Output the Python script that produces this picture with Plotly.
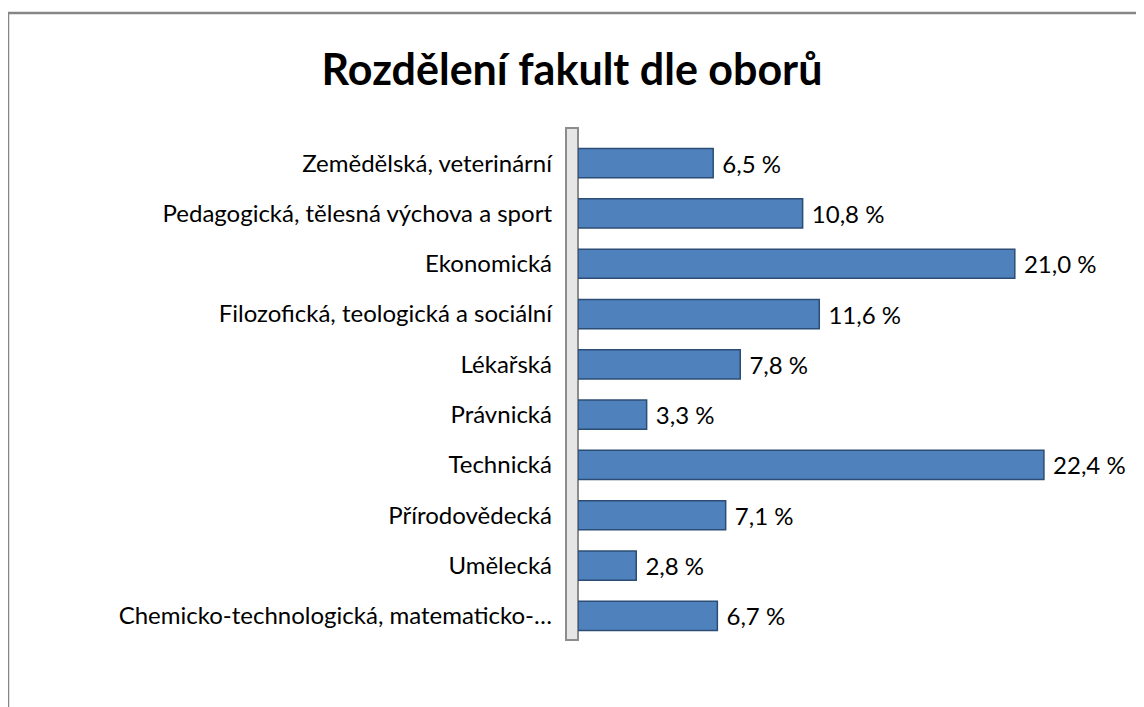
import plotly.graph_objects as go

categories = [
    "Zemědělská, veterinární",
    "Pedagogická, tělesná výchova a sport",
    "Ekonomická",
    "Filozofická, teologická a sociální",
    "Lékařská",
    "Právnická",
    "Technická",
    "Přírodovědecká",
    "Umělecká",
    "Chemicko-technologická, matematicko-…",
]
values = [6.5, 10.8, 21.0, 11.6, 7.8, 3.3, 22.4, 7.1, 2.8, 6.7]
value_labels = [" " + f"{v:.1f}".replace(".", ",") + " %" for v in values]

OFF = 8  # page body margin
W, H = 1144, 707
# target screen positions
L_s, R_s, T_s, B_s = 578, 1098, 138, 641
L, R, T, B = L_s - OFF, R_s - OFF, T_s - OFF, B_s - OFF

def px(x):
    return (x - L_s) / (R_s - L_s)

def py(y):
    return (B_s - y) / (B_s - T_s)

FONT = "Lato"

fig = go.Figure(go.Bar(
    y=categories,
    x=values,
    orientation="h",
    text=value_labels,
    textposition="outside",
    cliponaxis=False,
    textfont=dict(size=24, color="#000000", family=FONT),
    marker=dict(color="#4F81BD", line=dict(color="#2C4D75", width=1.5)),
))

fig.update_layout(
    width=W, height=H,
    margin=dict(l=L, r=W - R, t=T, b=H - B),
    paper_bgcolor="white", plot_bgcolor="white",
    title=dict(text="<b>Rozdělení fakult dle oborů</b>", x=(572 - OFF) / W, xref="container",
               xanchor="center", y=1 - (70 - OFF) / H, yref="container", yanchor="middle",
               font=dict(size=43, family=FONT, color="#000000")),
    bargap=0.42,
    showlegend=False,
    xaxis=dict(range=[0, 25], visible=False, showgrid=False, zeroline=False),
    yaxis=dict(autorange="reversed", showgrid=False, zeroline=False, showline=False,
               ticks="", ticklabelstandoff=25,
               tickfont=dict(size=24, family=FONT, color="#000000")),
    shapes=[
        # chart frame
        dict(type="line", xref="paper", yref="paper", x0=px(8), x1=px(W + 20), y0=py(13), y1=py(13),
             line=dict(color="#868686", width=2.5)),
        dict(type="line", xref="paper", yref="paper", x0=px(8), x1=px(8), y0=py(13), y1=py(H + 20),
             line=dict(color="#868686", width=2.5)),
        # 3D wall
        dict(type="rect", xref="paper", yref="paper", x0=px(566), x1=px(578), y0=py(640), y1=py(128),
             line=dict(color="#8C8C8C", width=2), fillcolor="#E6E6E6", layer="below"),
    ],
)

fig.write_html("out.html")
